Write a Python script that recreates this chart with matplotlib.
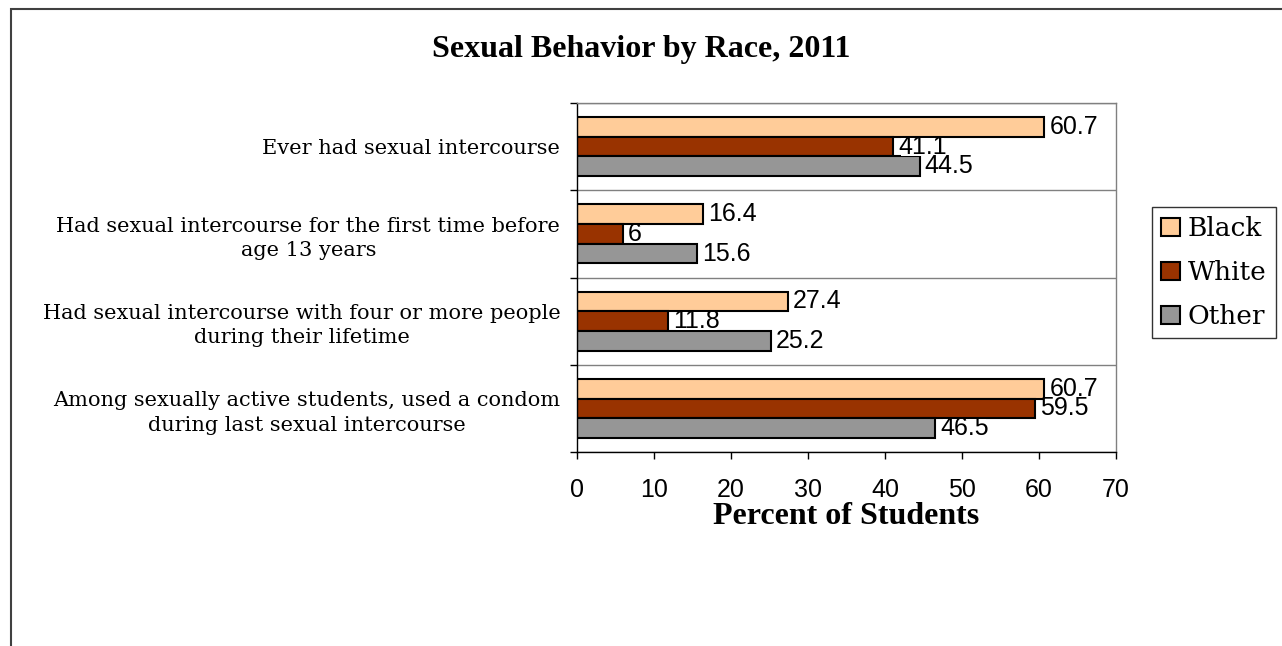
import matplotlib
matplotlib.use('Agg')
import matplotlib.pyplot as plt
import numpy as np
from matplotlib.patches import Rectangle

categories = [
    "Ever had sexual intercourse",
    "Had sexual intercourse for the first time before\nage 13 years",
    "Had sexual intercourse with four or more people\nduring their lifetime",
    "Among sexually active students, used a condom\nduring last sexual intercourse",
]
races = ["Black", "White", "Other"]
black_vals = [60.7, 16.4, 27.4, 60.7]
white_vals = [41.1, 6, 11.8, 59.5]
other_vals = [44.5, 15.6, 25.2, 46.5]
x_ticks = [0, 10, 20, 30, 40, 50, 60, 70]

colors = ["#FFCC99", "#993300", "#969696"]
W, H = 1282, 646

fig = plt.figure(figsize=(W / 100, H / 100), dpi=100)
fig.patch.set_facecolor("white")

ax = fig.add_axes([577 / W, 1 - 452 / H, (1116 - 577) / W, (452 - 103) / H])

n = len(categories)
pos = np.arange(n)[::-1].astype(float)
h = 0.226
series = [black_vals, white_vals, other_vals]
offsets = [h, 0, -h]
for vals, off, c, name in zip(series, offsets, colors, races):
    bars = ax.barh(pos + off, vals, height=h, color=c, edgecolor="black",
                   linewidth=1.5, label=name, zorder=2)
    for b, v in zip(bars, vals):
        ax.annotate(f"{v:g}", xy=(v, b.get_y() + b.get_height() / 2),
                    xytext=(5, 0), textcoords="offset pixels",
                    ha="left", va="center", fontsize=18,
                    family="Liberation Sans", zorder=4,
                    bbox=dict(boxstyle="square,pad=-0.12", fc="white", ec="none"))

ax.set_xlim(0, 70)
ax.set_ylim(-0.5, n - 0.5)
ax.set_xticks(x_ticks)
ax.set_xticklabels([str(t) for t in x_ticks], family="Liberation Sans", fontsize=18)
ax.tick_params(axis="x", direction="out", length=5, width=1, pad=14)

ax.set_yticks(pos)
ax.set_yticklabels(categories, family="DejaVu Serif", fontsize=15,
                   linespacing=1.35, multialignment="center")
ax.tick_params(axis="y", which="major", length=0, pad=12)
ax.set_yticks(np.arange(-0.5, n, 1.0), minor=True)
ax.tick_params(axis="y", which="minor", direction="out", length=5, width=1)
ax.grid(True, which="minor", axis="y", color="#808080", linewidth=1, zorder=0)
ax.set_axisbelow(True)

for s in ["left", "bottom"]:
    ax.spines[s].set_color("black")
    ax.spines[s].set_linewidth(1)
for s in ["top", "right"]:
    ax.spines[s].set_color("#808080")
    ax.spines[s].set_linewidth(1)

fig.text(641 / W, 1 - 50 / H, "Sexual Behavior by Race, 2011", ha="center",
         va="center", family="Liberation Serif", fontweight="bold", fontsize=23)
fig.text(846 / W, 1 - 516 / H, "Percent of Students", ha="center",
         va="center", family="Liberation Serif", fontweight="bold", fontsize=23)

leg = fig.legend(loc="upper left", bbox_to_anchor=(1152 / W, 1 - 207 / H),
                 prop={"family": "DejaVu Serif", "size": 19},
                 frameon=True, fancybox=False, edgecolor="black",
                 handlelength=0.7, handleheight=0.7, handletextpad=0.3,
                 borderpad=0.35, labelspacing=0.72, borderaxespad=0)
leg.get_frame().set_linewidth(1)

fig.add_artist(Rectangle((10.5 / W, -0.1), 2, (1 - 9.5 / H) + 0.1,
                         transform=fig.transFigure, fill=False,
                         edgecolor="#404040", linewidth=1.5))

fig.savefig("out.png", dpi=100)
